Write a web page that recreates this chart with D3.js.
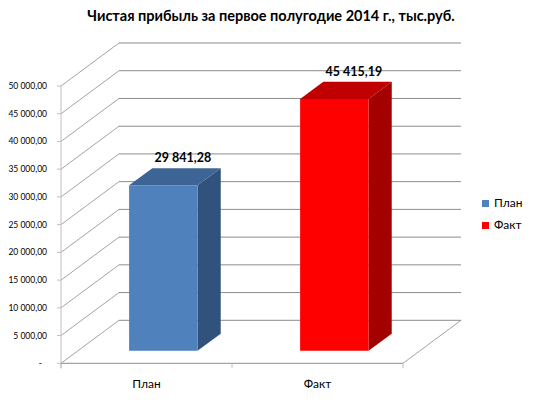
<!DOCTYPE html>
<html>
<head>
<meta charset="utf-8">
<script src="https://cdn.jsdelivr.net/npm/d3@7"></script>
<style>
  body { margin: 0; background: #fff; }
  text { font-family: Lato, "Liberation Sans", sans-serif; }
</style>
</head>
<body>
<div id="chart"></div>
<script>
var categories = ["План", "Факт"]
var values = [29841.28, 45415.19]
var yTicks = [0, 5000, 10000, 15000, 20000, 25000, 30000, 35000, 40000, 45000, 50000]
var title = "Чистая прибыль за первое полугодие 2014 г., тыс.руб."

var W = 533, H = 400
// depth of the 3d box
var DX = 58, DY = -43
var t0 = 0.29, t1 = 0.69

var front = { "План": "#4f81bd", "Факт": "#ff0000" }
var top_ = { "План": "#3c6595", "Факт": "#c00000" }
var side = { "План": "#31527d", "Факт": "#a30000" }

var ru = d3.formatLocale({ decimal: ",", thousands: "\u00a0", grouping: [3], currency: ["", ""] })
var fmt = ru.format(",.2f")

var svg = d3.select("#chart").append("svg")
  .attr("width", W)
  .attr("height", H)

var x = d3.scaleBand()
  .domain(categories)
  .range([61, 403])

var y = d3.scaleLinear()
  .domain([0, 50000])
  .range([363.3, 86])

// gridlines: diagonal on the left wall + line on back wall
var grid = svg.append("g")
yTicks.forEach(function (d) {
  grid.append("line")
    .attr("x1", x.range()[0]).attr("y1", y(d))
    .attr("x2", x.range()[0] + DX).attr("y2", y(d) + DY)
    .attr("stroke", "#8c8c8c").attr("stroke-width", 0.8)
  grid.append("line")
    .attr("x1", x.range()[0] + DX).attr("y1", y(d) + DY)
    .attr("x2", x.range()[1] + DX).attr("y2", y(d) + DY)
    .attr("stroke", "#8c8c8c").attr("stroke-width", 1)
})

// floor
svg.append("line")
  .attr("x1", x.range()[0]).attr("y1", y(0))
  .attr("x2", x.range()[1]).attr("y2", y(0))
  .attr("stroke", "#8c8c8c")
svg.append("line")
  .attr("x1", x.range()[1]).attr("y1", y(0))
  .attr("x2", x.range()[1] + DX).attr("y2", y(0) + DY)
  .attr("stroke", "#8c8c8c").attr("stroke-width", 0.8)

// category ticks
categories.concat([null]).forEach(function (c, i) {
  var xx = c ? x(c) : x.range()[1]
  svg.append("line")
    .attr("x1", xx).attr("x2", xx)
    .attr("y1", y(0)).attr("y2", y(0) + 5)
    .attr("stroke", "#bfbfbf")
})

// front value axis
svg.append("line")
  .attr("x1", 61).attr("x2", 61)
  .attr("y1", y(50000)).attr("y2", y(0) + 5)
  .attr("stroke", "#bfbfbf")

svg.selectAll(".ytick")
  .data(yTicks)
  .enter().append("line")
  .attr("x1", 57).attr("x2", 61)
  .attr("y1", d => y(d)).attr("y2", d => y(d))
  .attr("stroke", "#bfbfbf")

svg.selectAll(".ylab")
  .data(yTicks)
  .enter().append("text")
  .attr("x", d => d === 0 ? 42 : 47)
  .attr("y", d => y(d))
  .attr("dy", "0.35em")
  .attr("text-anchor", "end")
  .attr("font-size", 8.5)
  .attr("fill", "#000")
  .text(d => d === 0 ? "-" : fmt(d))

// bars
var bw = x.bandwidth() * 0.4
var bars = svg.selectAll(".bar")
  .data(categories)
  .enter().append("g")

function geo(c, i) {
  var x0 = x(c) + (x.bandwidth() - bw) / 2
  var x1 = x0 + bw
  return { x0: x0, x1: x1, yv: y(values[i]), yb: y(0),
    ox0: DX * t0, oy0: DY * t0, ox1: DX * t1, oy1: DY * t1 }
}

bars.append("polygon")
  .attr("points", function (c, i) {
    var g = geo(c, i)
    return [[g.x1 + g.ox0, g.yv + g.oy0], [g.x1 + g.ox1, g.yv + g.oy1],
      [g.x1 + g.ox1, g.yb + g.oy1], [g.x1 + g.ox0, g.yb + g.oy0]].join(" ")
  })
  .attr("fill", d => side[d])

bars.append("polygon")
  .attr("points", function (c, i) {
    var g = geo(c, i)
    return [[g.x0 + g.ox0, g.yv + g.oy0], [g.x1 + g.ox0, g.yv + g.oy0],
      [g.x1 + g.ox1, g.yv + g.oy1], [g.x0 + g.ox1, g.yv + g.oy1]].join(" ")
  })
  .attr("fill", d => top_[d])

bars.append("polygon")
  .attr("points", function (c, i) {
    var g = geo(c, i)
    return [[g.x0 + g.ox0, g.yv + g.oy0], [g.x1 + g.ox0, g.yv + g.oy0],
      [g.x1 + g.ox0, g.yb + g.oy0], [g.x0 + g.ox0, g.yb + g.oy0]].join(" ")
  })
  .attr("fill", d => front[d])

// value labels
bars.append("text")
  .attr("x", function (c, i) { var g = geo(c, i); return (g.x0 + g.x1) / 2 + (g.ox0 + g.ox1) / 2 + 8 })
  .attr("y", function (c, i) { var g = geo(c, i); return g.yv + g.oy1 - 6 })
  .attr("text-anchor", "middle")
  .attr("font-size", 12.5)
  .attr("font-weight", "bold")
  .attr("fill", "#000")
  .text((c, i) => fmt(values[i]))

// category labels
svg.selectAll(".xlab")
  .data(categories)
  .enter().append("text")
  .attr("x", d => x(d) + x.bandwidth() / 2)
  .attr("y", 388)
  .attr("text-anchor", "middle")
  .attr("font-size", 12)
  .attr("fill", "#000")
  .text(d => d)

// title
var tt = svg.append("text")
  .attr("x", 271)
  .attr("y", 21)
  .attr("text-anchor", "middle")
  .attr("font-size", 14)
  .attr("font-weight", "bold")
  .attr("fill", "#000")
  .text(title)
var tw = tt.node().getComputedTextLength()
tt.attr("font-size", 14 * 368 / tw)

// legend
var legend = svg.selectAll(".legend")
  .data(categories)
  .enter().append("g")
  .attr("transform", (d, i) => "translate(482," + (200 + i * 22) + ")")

legend.append("rect")
  .attr("width", 7).attr("height", 7)
  .attr("fill", d => front[d])

legend.append("text")
  .attr("x", 12)
  .attr("y", 7)
  .attr("font-size", 12)
  .attr("fill", "#000")
  .text(d => d)
</script>
</body>
</html>
